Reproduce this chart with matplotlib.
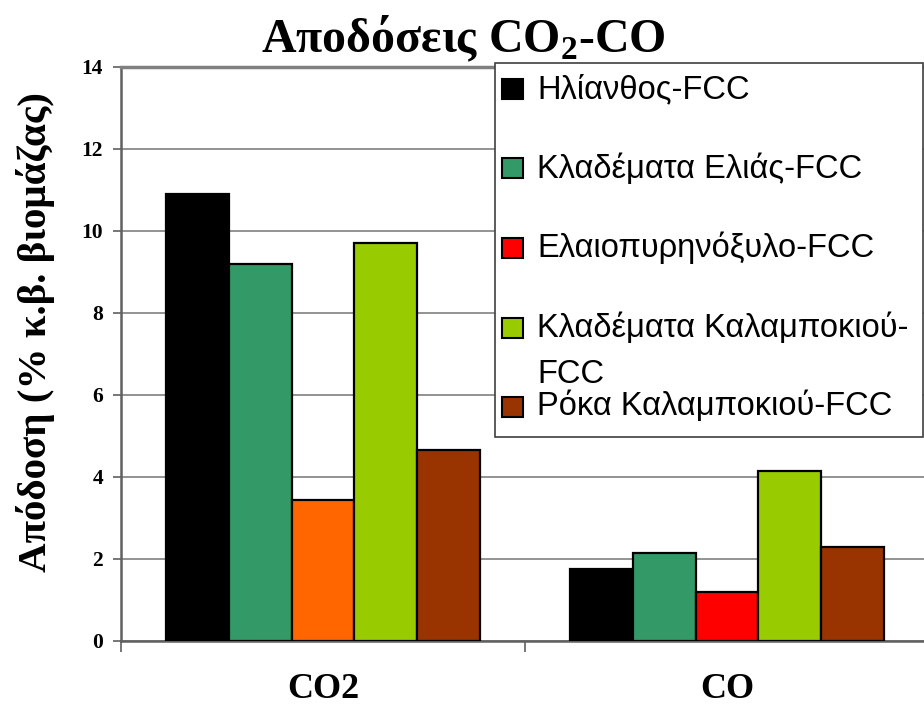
import matplotlib
matplotlib.use("Agg")
import matplotlib.pyplot as plt
from matplotlib.patches import Rectangle
from matplotlib.transforms import blended_transform_factory
import numpy as np

plt.rcParams["mathtext.fontset"] = "custom"
plt.rcParams["mathtext.bf"] = "Liberation Serif:bold"
plt.rcParams["mathtext.rm"] = "Liberation Serif"

# Data
categories = ["CO2", "CO"]
series_names = [
    "Ηλίανθος-FCC",
    "Κλαδέματα Ελιάς-FCC",
    "Ελαιοπυρηνόξυλο-FCC",
    "Κλαδέματα Καλαμποκιού-\nFCC",
    "Ρόκα Καλαμποκιού-FCC",
]
helianthus = [10.9, 1.75]
olive_prunings = [9.2, 2.15]
olive_kernel = [3.45, 1.2]
corn_prunings = [9.7, 4.15]
corn_cobs = [4.65, 2.3]
yticks = [0, 2, 4, 6, 8, 10, 12, 14]

values = [helianthus, olive_prunings, olive_kernel, corn_prunings, corn_cobs]
# per-bar colours (third series is orange in the CO2 group, red in the CO group)
bar_colors = [
    ["#000000", "#000000"],
    ["#339966", "#339966"],
    ["#FF6600", "#FF0000"],
    ["#99CC00", "#99CC00"],
    ["#993300", "#993300"],
]
legend_colors = ["#000000", "#339966", "#FF0000", "#99CC00", "#993300"]

W, H = 924, 706
fig = plt.figure(figsize=(W / 100, H / 100), dpi=100)
fig.patch.set_facecolor("white")

def fx(px):
    return px / W

def fy(py):
    return 1 - py / H

ax = fig.add_axes([fx(121), fy(641), fx(929) - fx(121), fy(67) - fy(641)])

serif = "Liberation Serif"
sans = "Liberation Sans"

x = np.arange(len(categories))
w = 0.155
for i, vals in enumerate(values):
    ax.bar(x + (i - 2) * w, vals, width=w, color=bar_colors[i],
           edgecolor="black", linewidth=1.6, zorder=3)

ax.set_xlim(-0.5, len(categories) - 0.5)
ax.set_ylim(0, 14)
ax.set_yticks(yticks)
ax.set_yticklabels([str(t) for t in yticks], fontfamily=serif,
                   fontweight="bold", fontsize=15.5)
ax.yaxis.grid(True, color="#808080", linewidth=1.2, zorder=0)
ax.set_axisbelow(True)
ax.tick_params(axis="y", direction="out", length=6, width=1.2,
               color="#606060", pad=7)

# category ticks at group boundaries, labels centred in each group
ax.set_xticks([-0.5, 0.5, 1.5])
ax.set_xticklabels([])
ax.tick_params(axis="x", direction="out", length=8, width=1.2, color="#606060")
cat_trans = blended_transform_factory(ax.transData, fig.transFigure)
for xi, lab in zip(x, categories):
    ax.text(xi, fy(698), lab, transform=cat_trans,
            ha="center", va="baseline", fontfamily=serif, fontweight="bold",
            fontsize=26)

for side in ["left", "bottom"]:
    ax.spines[side].set_color("#606060")
    ax.spines[side].set_linewidth(1.8)
ax.spines["top"].set_color("#808080")
ax.spines["top"].set_linewidth(2.5)
ax.spines["right"].set_visible(False)

fig.text(fx(463), fy(52), "Αποδόσεις CO$_\\mathbf{2}$-CO", ha="center",
         va="baseline", fontfamily=serif, fontweight="bold", fontsize=34.5)

fig.text(fx(36), fy(332), "Απόδοση (% κ.β. βιομάζας)", rotation=90,
         ha="center", va="center", fontfamily=serif, fontweight="bold",
         fontsize=29.5)

# legend box drawn in figure coordinates
fig.patches.append(Rectangle((fx(495), fy(437)), fx(923) - fx(495),
                             fy(63) - fy(437), transform=fig.transFigure,
                             facecolor="white", edgecolor="#404040",
                             linewidth=1.2, zorder=5))
marker_y = [89, 168, 248, 328, 407]
text_y = [98, 178, 257, 337, 415]
line_step = 46
for name, col, my, ty in zip(series_names, legend_colors, marker_y, text_y):
    fig.patches.append(Rectangle((fx(502), fy(my + 10)), fx(21), 20 / H,
                                 transform=fig.transFigure, facecolor=col,
                                 edgecolor="black", linewidth=1.5, zorder=6))
    for k, line in enumerate(name.split("\n")):
        fig.text(fx(537), fy(ty + k * line_step), line, ha="left",
                 va="baseline", fontfamily=sans, fontsize=23.5, zorder=7)

fig.savefig("out.png", dpi=100, facecolor="white")
